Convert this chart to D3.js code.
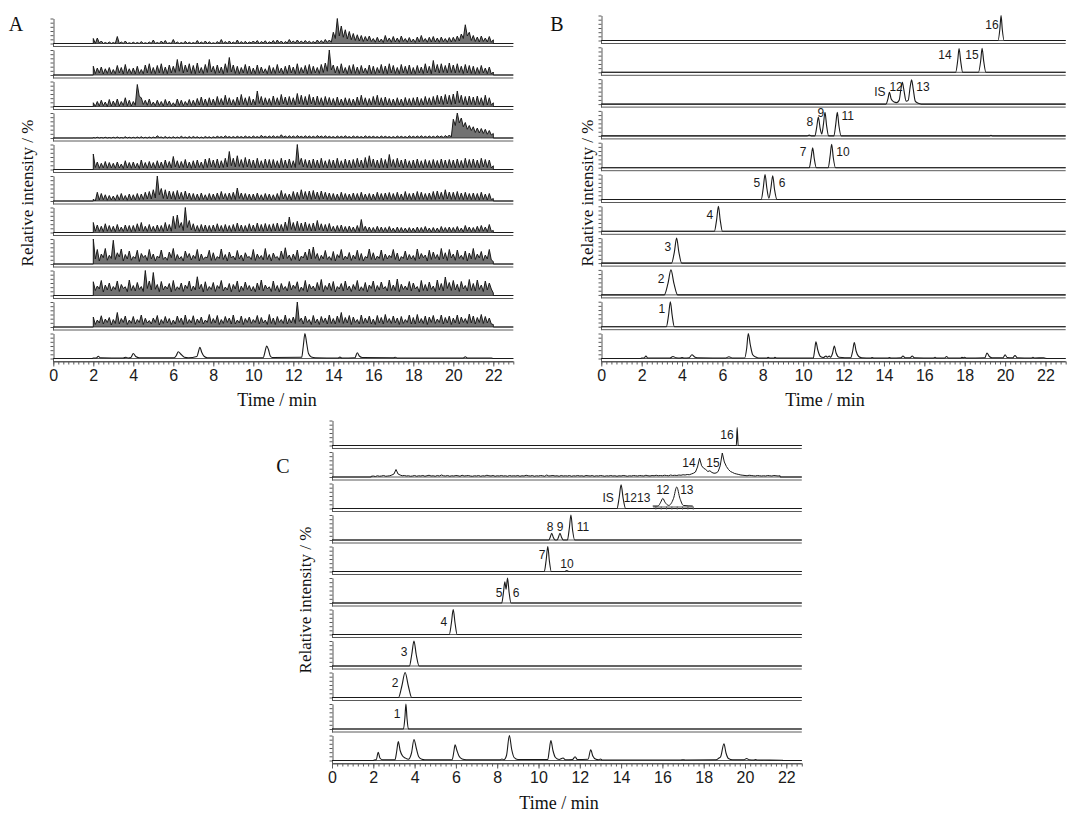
<!DOCTYPE html>
<html>
<head>
<meta charset="utf-8">
<script src="https://cdn.jsdelivr.net/npm/d3@7"></script>
<style>
  body { margin: 0; background: #fff; }
  svg { display: block; }
</style>
</head>
<body>
<svg id="fig" width="1067" height="813"></svg>
<script>
// ---------- time axis ----------
const timeTicks = [0, 2, 4, 6, 8, 10, 12, 14, 16, 18, 20, 22];

// ---------- panel A: noisy traces (relative intensity %, 2.0–22.0 min every 0.1 min) ----------
const noiseStartA = 2.0;
const noiseStepA = 0.1;

const a1 = [20,0,22,2,10,0,4,0,6,0, 4,0,28,0,6,0,10,0,3,0, 5,0,4,0,8,0,3,0,6,0, 14,0,4,0,10,0,12,0,3,0,
  16,0,6,0,4,0,9,0,5,0, 4,0,12,0,6,0,10,0,7,0, 3,0,8,0,16,0,8,0,10,0, 6,0,14,0,8,0,9,0,6,2,
  10,2,12,0,8,2,11,0,7,2, 12,0,14,2,10,0,8,2,16,3, 10,2,14,3,10,2,12,3,9,2, 8,2,14,3,12,2,16,4,14,5,
  45,20,100,30,70,25,55,18,48,15, 40,12,35,10,32,8,28,10,30,8, 20,5,25,6,18,4,32,8,22,5, 28,6,22,5,30,8,20,5,24,6,
  18,4,26,6,32,8,20,5,25,6, 28,6,22,5,26,7,20,5,24,6, 25,8,30,10,38,20,75,30,45,12, 32,8,26,6,30,8,22,6,28,5, 15];

const a2 = [35,5,28,8,32,4,25,6,30,5, 22,5,38,8,30,4,42,6,25,5, 28,4,35,6,22,5,40,8,45,6, 30,5,38,8,45,6,32,5,40,8,
  35,10,62,15,55,8,40,12,45,6, 38,5,48,8,30,6,42,10,62,12, 35,6,40,8,32,5,45,10,70,12, 40,6,35,5,30,8,42,6,36,5,
  28,5,40,6,32,8,25,5,38,6, 30,6,42,8,28,5,35,6,40,8, 32,5,45,6,30,8,38,5,42,6, 35,8,30,6,42,10,48,15,100,20,
  40,8,35,6,45,8,30,5,38,6, 42,6,32,5,38,8,28,6,40,5, 35,5,30,8,42,6,36,5,45,8, 38,6,30,5,42,8,35,6,40,5,
  30,5,38,8,32,6,45,8,35,5, 58,12,42,8,45,10,38,8,48,10, 40,8,45,10,35,6,42,8,38,6, 35,5,30,6,38,8,28,5,32,4, 12];

const a3 = [15,0,20,2,25,3,18,0,28,2, 22,3,30,2,20,4,35,3,25,2, 20,5,88,40,35,8,25,5,30,4, 18,3,25,4,20,2,28,5,22,3,
  15,2,30,4,25,3,20,5,28,4, 25,4,32,6,38,5,30,4,35,6, 30,5,40,8,32,6,45,8,35,6, 28,5,38,6,48,8,35,5,40,6,
  30,6,62,12,40,6,35,8,32,5, 42,8,35,6,48,10,38,6,40,8, 35,6,52,10,45,8,40,6,48,10, 38,6,42,8,35,5,40,8,36,6,
  32,5,38,6,30,5,35,6,32,5, 30,5,38,6,45,8,35,5,32,6, 40,8,45,6,35,5,38,6,32,5, 30,5,35,6,30,4,36,6,32,5,
  35,6,38,5,32,6,40,8,35,6, 40,8,45,10,42,8,48,10,45,8, 50,10,62,15,45,8,40,6,42,8, 38,6,42,8,35,5,45,6,35,5, 15];

const a4 = [2,0,3,0,2,0,3,0,2,0, 3,0,4,0,2,0,5,0,3,0, 3,0,4,0,5,0,3,0,4,0, 4,0,9,2,4,0,6,0,4,0,
  5,0,4,0,7,1,4,0,6,0, 6,1,5,0,4,0,6,1,5,0, 5,1,7,2,6,1,9,2,6,1, 6,1,7,2,6,1,8,2,6,1,
  8,2,6,1,11,3,7,2,8,2, 9,2,7,2,13,3,8,2,9,2, 8,2,10,3,7,2,9,2,8,2, 7,2,10,3,8,2,9,2,7,2,
  6,1,8,2,7,2,9,2,6,1, 8,2,7,2,6,1,9,2,7,2, 7,2,6,1,8,2,7,2,6,1, 6,1,8,2,7,2,6,1,9,2,
  7,2,8,2,9,2,7,2,8,2, 7,2,9,3,8,2,10,3,12,4, 75,50,100,60,80,45,62,35,50,30, 45,22,40,20,38,18,35,15,30,12, 18];

const a5 = [62,8,30,5,25,6,32,5,28,6, 25,5,30,6,22,4,35,6,28,5, 30,6,25,4,38,6,28,5,32,6, 28,5,35,6,30,5,38,8,32,6,
  52,10,35,6,32,8,40,6,30,5, 35,6,38,8,30,5,42,8,45,10, 38,8,42,6,35,8,45,10,72,15, 45,10,55,12,40,8,48,10,42,8,
  38,6,45,8,35,6,42,8,40,6, 40,8,35,6,45,8,38,6,42,8, 35,8,100,20,45,10,40,8,38,6, 42,8,38,6,45,8,35,6,40,8,
  38,6,45,8,35,6,42,8,38,6, 40,8,45,10,38,6,48,8,55,12, 42,8,38,6,45,8,40,6,60,12, 40,8,45,10,38,6,42,8,35,6,
  38,6,42,8,35,6,40,8,36,6, 40,8,36,6,42,8,38,6,40,8, 38,6,42,8,36,6,45,8,40,8, 42,8,38,6,45,10,40,8,38,6, 15];

const a6 = [8,0,35,4,30,5,25,3,22,4, 20,3,25,4,30,5,22,3,28,4, 25,4,30,5,28,6,35,8,38,8, 45,12,100,25,50,10,45,8,40,8,
  38,6,42,8,35,6,40,8,32,5, 30,5,28,4,32,6,25,4,30,5, 28,5,32,6,38,8,30,5,32,6, 35,6,52,10,32,6,30,5,28,4,
  28,4,32,6,25,4,30,5,28,4, 25,4,30,5,42,8,30,5,28,4, 38,6,35,6,45,8,38,6,40,6, 42,8,36,6,40,8,35,6,32,5,
  30,5,28,4,35,6,30,5,28,4, 32,5,30,4,35,6,28,5,30,4, 28,5,35,6,30,4,32,6,34,5, 30,5,35,6,28,4,38,6,30,5,
  32,5,38,6,35,6,30,5,32,6, 38,6,40,8,35,6,45,8,36,6, 35,6,38,6,32,5,35,6,30,5, 32,5,30,4,35,6,28,4,30,5, 10];

const a7 = [40,5,30,4,25,3,35,5,28,4, 25,3,32,5,22,4,30,5,28,3, 28,4,35,6,40,5,25,4,32,5, 25,4,30,5,28,4,40,6,32,5,
  65,15,70,20,40,8,100,20,48,10, 35,5,28,4,32,5,30,4,28,4, 30,5,35,6,28,4,32,5,28,4, 32,5,38,6,30,4,28,5,35,6,
  30,5,38,6,32,5,36,6,32,5, 35,6,38,6,32,5,42,8,62,12, 40,8,45,8,38,6,42,8,35,6, 38,6,48,10,35,6,32,5,36,6,
  25,4,28,5,30,4,24,3,26,4, 22,3,28,4,52,8,25,4,22,3, 20,3,25,4,22,3,20,3,24,4, 18,2,22,3,20,3,18,2,20,3,
  18,2,22,3,20,3,24,4,18,2, 20,3,18,2,24,4,20,3,22,3, 20,3,24,4,18,2,28,5,22,3, 20,3,25,4,28,5,22,3,32,5, 8];

const a8 = [100,20,58,12,40,25,62,15,35,22, 95,18,45,28,60,12,38,20,52,15, 30,22,55,10,42,26,35,14,58,20, 40,12,32,24,56,18,28,15,48,25,
  62,14,38,20,30,12,52,26,42,16, 35,22,58,12,40,18,28,25,55,14, 45,15,30,22,60,18,38,12,48,24, 32,16,54,20,36,12,45,26,30,18,
  58,14,40,22,34,16,62,18,38,12, 44,24,30,15,52,20,65,22,36,14, 40,18,56,12,32,24,48,16,60,20, 68,22,42,14,35,20,54,18,30,15,
  50,12,38,25,58,16,32,20,46,14, 36,20,55,15,42,12,30,24,60,18, 45,16,32,22,56,14,40,20,35,25, 58,18,44,12,30,22,52,16,38,20,
  34,14,60,20,42,25,36,12,55,18, 48,22,38,16,62,20,45,14,58,24, 40,15,56,22,35,18,52,12,44,20, 62,18,40,24,50,14,36,20,58,16, 10];

const a9 = [55,20,38,26,60,14,42,22,50,18, 36,24,58,16,44,28,35,15,62,20, 40,18,52,24,36,16,100,28,58,22, 92,25,44,15,56,22,38,26,48,14,
  60,20,35,24,50,16,42,28,58,18, 38,22,75,26,45,14,55,20,36,24, 52,16,40,28,60,18,34,22,48,15, 44,26,58,14,38,20,54,24,40,18,
  36,15,50,22,62,18,42,26,35,16, 58,20,40,14,48,24,36,18,56,22, 42,28,55,16,34,20,60,14,45,26, 38,18,52,22,64,15,40,24,50,20,
  56,14,36,26,48,18,58,22,38,16, 44,24,60,18,35,20,52,14,42,28, 58,16,40,22,54,26,36,18,62,20, 42,20,66,15,45,24,38,22,56,18,
  50,26,36,14,60,20,44,18,54,24, 38,16,62,22,48,18,74,28,52,20, 60,22,45,16,56,26,40,18,64,20, 48,18,62,24,42,16,58,22,50,26, 10];

const a10 = [40,10,28,16,45,12,32,18,38,8, 30,14,58,12,34,18,44,10,28,15, 42,12,30,18,48,10,35,16,26,12, 36,18,46,8,30,14,42,16,34,10,
  28,12,44,18,36,10,48,14,30,16, 45,10,32,16,40,12,28,18,50,14, 34,16,46,10,30,14,42,18,36,12, 48,12,28,16,44,10,34,18,40,14,
  30,18,46,12,38,16,28,10,50,14, 36,10,42,18,30,14,48,12,34,16, 40,14,100,22,36,12,44,18,30,10, 46,16,32,10,42,18,36,12,48,14,
  34,12,44,18,58,14,38,16,46,10, 40,18,30,12,48,14,36,16,44,12, 32,10,46,16,38,12,50,18,34,14, 44,16,36,10,42,14,30,18,48,12,
  38,12,50,16,34,14,44,10,40,18, 46,14,32,18,48,12,38,16,44,10, 36,16,48,12,40,18,34,14,52,16, 44,12,38,18,50,14,42,16,36,12, 10];

// panel A, bottom trace: [time min, relative intensity %]
const aTrace11 = [[0,0],[1.95,0],[2.0,2],[2.15,2],[2.25,9],[2.35,3],[3.5,2],[3.63,5],[3.75,2],[3.88,4],[4.0,20],[4.12,8],[4.3,3],
  [6.05,3],[6.15,12],[6.25,27],[6.37,18],[6.55,5],[6.75,3],[7.18,8],[7.25,25],[7.33,45],[7.42,25],[7.55,8],[7.7,3],
  [10.5,3],[10.58,25],[10.67,50],[10.76,35],[10.85,10],[10.95,4],[12.42,5],[12.5,50],[12.58,100],[12.67,60],[12.76,20],[12.9,6],[13.1,3],
  [14.25,2],[14.33,6],[14.42,2],[15.08,3],[15.2,23],[15.3,10],[15.45,4],[17.0,3],[17.1,5],[17.2,2],[20.5,2],[20.6,7],[20.7,2],
  [21.9,2],[22.0,0],[23,0]];

// ---------- panel B traces ----------
const bTrace1 = [[0,0],[19.65,0],[19.74,45],[19.8,100],[19.86,45],[19.95,0],[23,0]];
const bTrace2 = [[0,0],[17.55,0],[17.65,45],[17.72,95],[17.8,45],[17.9,0],[18.68,0],[18.79,45],[18.86,96],[18.94,45],[19.05,0],[23,0]];
const bTrace3 = [[0,0],[14.1,0],[14.2,22],[14.27,47],[14.36,20],[14.5,8],[14.62,6],[14.75,15],[14.84,60],[14.91,87],[14.98,60],[15.1,12],
  [15.2,15],[15.3,70],[15.37,97],[15.45,60],[15.55,12],[15.7,3],[15.85,0],[23,0]];
const bTrace4 = [[0,0],[10.2,0],[10.3,3],[10.4,0],[10.58,0],[10.67,35],[10.75,75],[10.84,30],[10.92,8],[11.0,45],[11.08,94],[11.16,40],
  [11.26,0],[11.52,0],[11.61,45],[11.69,94],[11.77,40],[11.88,0],[19.2,0],[19.3,2],[19.4,0],[23,0]];
const bTrace5 = [[0,0],[10.3,0],[10.39,38],[10.47,80],[10.55,35],[10.65,0],[11.24,0],[11.33,45],[11.41,94],[11.49,40],[11.6,0],[23,0]];
const bTrace6 = [[0,0],[7.92,0],[8.02,45],[8.11,100],[8.2,45],[8.3,5],[8.4,45],[8.49,95],[8.58,40],[8.7,0],[23,0]];
const bTrace7 = [[0,0],[5.6,0],[5.71,45],[5.8,100],[5.89,45],[6.0,0],[23,0]];
const bTrace8 = [[0,0],[3.48,0],[3.62,45],[3.73,100],[3.84,45],[3.98,0],[23,0]];
const bTrace9 = [[0,0],[3.12,0],[3.3,45],[3.45,100],[3.6,45],[3.78,0],[23,0]];
const bTrace10 = [[0,0],[3.22,0],[3.33,45],[3.42,100],[3.51,45],[3.62,0],[23,0]];
const bTrace11 = [[0,0],[1.95,0],[2.0,2],[2.12,2],[2.21,10],[2.3,2],[3.4,2],[3.55,8],[3.7,3],[3.9,2],[4.0,4],[4.1,2],[4.35,3],[4.49,15],
  [4.62,6],[4.75,3],[6.15,2],[6.32,7],[6.5,2],[7.1,2],[7.2,40],[7.28,100],[7.38,55],[7.5,15],[7.65,6],[7.8,2],[8.2,2],[8.26,5],[8.35,2],
  [8.55,2],[8.6,5],[8.68,2],[10.5,2],[10.57,35],[10.63,67],[10.72,35],[10.85,8],[11.0,4],[11.13,10],[11.2,5],[11.29,10],[11.36,5],
  [11.45,20],[11.54,50],[11.63,22],[11.78,5],[12.35,3],[12.45,30],[12.53,64],[12.62,30],[12.75,8],[12.9,3],[13.35,2],[13.41,4],[13.5,2],
  [14.2,2],[14.27,4],[14.35,2],[14.85,3],[14.94,10],[15.05,3],[15.3,3],[15.4,10],[15.5,3],[16.45,2],[16.53,5],[16.6,2],[17.0,2],[17.1,8],
  [17.2,2],[17.8,2],[17.86,5],[17.93,3],[18.0,5],[18.08,2],[19.0,3],[19.1,22],[19.22,8],[19.35,3],[19.9,3],[20.0,15],[20.1,4],[20.38,3],
  [20.49,12],[20.6,3],[21.3,2],[21.38,5],[21.46,2],[21.9,3],[22.0,1],[22.1,0],[23,0]];

// ---------- panel C traces ----------
const noiseStartC = 1.9;
const noiseStepC = 0.1;
const cNoise2 = [3,4,2,5,3,4,6,3,4,5, 8,12,30,12,8,5,6,4,5,3, 4,6,3,5,4,6,3,5,7,4, 5,3,6,4,8,5,4,6,3,5,
  4,6,5,3,7,4,5,6,4,3, 5,4,6,3,5,4,7,5,4,6, 3,5,4,6,4,5,3,6,4,5, 4,6,3,5,4,7,5,4,6,3,
  5,4,6,5,3,8,4,5,6,4, 5,3,6,4,5,4,6,3,5,4, 6,4,5,3,6,5,4,6,3,5, 4,6,5,3,5,4,6,4,5,3,
  5,4,6,5,3,5,4,6,5,4, 6,5,4,7,5,4,6,5,7,5, 6,5,7,6,5,8,6,7,6,8, 7,9,8,10,9,12,15,20,40,75,
  45,35,30,22,25,18,15,16,22,45, 96,60,42,30,22,18,14,12,10,8, 7,6,5,7,6,5,4,6,5,4, 5,4,6,5,4,6,5,4,5];

const cTrace1 = [[0,0],[19.58,0],[19.62,72],[19.67,0],[22.75,0]];
const cTrace3 = [[0,0],[13.8,0],[13.9,40],[14.0,95],[14.1,40],[14.22,0],[22.75,0]];
const cTrace4 = [[0,0],[10.5,0],[10.57,12],[10.64,27],[10.72,10],[10.8,0],[10.9,0],[10.97,12],[11.04,27],[11.12,10],[11.2,0],
  [11.4,0],[11.49,45],[11.57,100],[11.65,40],[11.75,0],[22.75,0]];
const cTrace5 = [[0,0],[10.28,0],[10.37,45],[10.45,100],[10.53,40],[10.62,0],[11.28,0],[11.37,4],[11.46,0],[22.75,0]];
const cTrace6 = [[0,0],[8.22,0],[8.3,40],[8.37,85],[8.43,55],[8.5,100],[8.58,40],[8.67,0],[22.75,0]];
const cTrace7 = [[0,0],[5.68,0],[5.78,45],[5.87,100],[5.96,45],[6.06,0],[22.75,0]];
const cTrace8 = [[0,0],[3.75,0],[3.86,45],[3.97,100],[4.08,45],[4.22,0],[22.75,0]];
const cTrace9 = [[0,0],[3.22,0],[3.38,45],[3.54,100],[3.7,45],[3.86,0],[22.75,0]];
const cTrace10 = [[0,0],[3.46,0],[3.53,45],[3.58,100],[3.63,45],[3.7,0],[22.75,0]];
const cTrace11 = [[0,0],[1.99,0],[2.05,2],[2.14,3],[2.24,33],[2.32,10],[2.45,3],[3.05,3],[3.13,35],[3.21,76],[3.3,40],[3.42,18],
  [3.55,10],[3.7,5],[3.85,30],[3.97,84],[4.08,50],[4.2,15],[4.35,5],[4.5,3],[5.82,3],[5.9,35],[5.96,63],[6.05,40],[6.15,18],[6.3,6],
  [6.5,3],[8.15,3],[8.23,6],[8.32,3],[8.45,20],[8.59,100],[8.7,45],[8.82,12],[9.0,4],[10.45,4],[10.52,40],[10.6,80],[10.7,40],
  [10.82,12],[11.0,4],[11.19,10],[11.3,3],[11.65,4],[11.77,15],[11.88,4],[12.4,5],[12.53,43],[12.63,18],[12.78,5],[12.92,3],[13.0,6],
  [13.08,2],[16.9,2],[17.0,3],[17.1,2],[18.6,3],[18.74,10],[18.82,15],[18.98,67],[19.08,30],[19.2,8],[19.4,3],[19.95,3],[20.08,8],
  [20.2,3],[20.45,2],[20.5,4],[20.6,2],[21.78,1],[21.85,0],[22.75,0]];

// enlarged view of peaks 12 and 13 (row 3 of panel C)
const cInsetTrace = [[14.5,0],[14.7,0],[14.8,20],[14.88,40],[14.96,20],[15.1,3],[15.28,40],[15.4,100],[15.52,40],[15.65,3],[16.0,0]];

// ---------- peak tags: [row, text, time, relative height] ----------
const bTags = [[0,'16',19.35,60],[1,'14',17.02,66],[1,'15',18.36,66],[2,'IS',13.8,46],[2,'12',14.6,66],[2,'13',15.93,66],
  [3,'8',10.33,54],[3,'9',10.88,90],[3,'11',12.21,78],[4,'7',9.99,61],[4,'10',11.97,61],[5,'5',7.71,64],[5,'6',8.95,64],
  [6,'4',5.38,63],[7,'3',3.3,62],[8,'2',2.96,62],[9,'1',3.0,69]];
const cTags = [[0,'16',19.13,40],[1,'14',17.29,54],[1,'15',18.45,54],[2,'IS',13.37,40],[2,'1213',14.77,40],
  [3,'8',10.56,50],[3,'9',11.04,50],[3,'11',12.15,50],[4,'7',10.17,64],[4,'10',11.38,28],[5,'5',8.09,38],[5,'6',8.91,38],
  [6,'4',5.42,48],[7,'3',3.49,54],[8,'2',3.05,56],[9,'1',3.15,58]];
const cInsetTags = [['12',14.88,84],['13',15.78,84]];

// ---------- drawing ----------
const svg = d3.select('#fig');
const SANS = "'Liberation Sans', Arial, sans-serif";
const SERIF = "'Liberation Serif', 'Times New Roman', serif";
const traceColor = '#1a1a1a';
const ruleColor = '#5a5a5a';

const panelA = { name: 'A', x0: 53.3, px: 20.0, tEnd: 23, base: 43, gap: 31.5, h: 25,
  letter: [16, 31], yTitle: [27, 193], xTitle: [277, 400] };
const panelB = { name: 'B', x0: 601.3, px: 20.19, tEnd: 23, base: 40, gap: 31.8, h: 25,
  letter: [557, 31], yTitle: [587, 193], xTitle: [825, 400] };
const panelC = { name: 'C', x0: 332, px: 20.65, tEnd: 22.75, base: 445, gap: 31.5, h: 25,
  letter: [283, 473], yTitle: [305, 600], xTitle: [559, 803] };

function noisePoints(values, t0, dt, tEnd) {
  const pts = [[0, 0], [t0, 0]];
  values.forEach((v, j) => pts.push([t0 + j * dt, v]));
  const tLast = t0 + (values.length - 1) * dt;
  pts.push([tLast, 0], [tEnd, 0]);
  return pts;
}

function drawPanel(L, rows, tags) {
  const g = svg.append('g');
  const x = d3.scaleLinear().domain([0, L.tEnd]).range([L.x0, L.x0 + L.tEnd * L.px]);
  const rowScales = [];

  rows.forEach((row, i) => {
    const b = L.base + i * L.gap;
    const y = d3.scaleLinear().domain([0, 100]).range([b, b - L.h]);
    rowScales.push(y);
    const last = i === rows.length - 1;

    // row frame: baseline rule and lower rule
    g.append('line').attr('x1', x(0)).attr('x2', x(L.tEnd)).attr('y1', b + 0.5).attr('y2', b + 0.5)
      .attr('stroke', ruleColor).attr('stroke-width', 1);
    g.append('line').attr('x1', x(0)).attr('x2', x(L.tEnd)).attr('y1', b + 3.5).attr('y2', b + 3.5)
      .attr('stroke', ruleColor).attr('stroke-width', 1);

    // small intensity axis of the row
    const ya = g.append('g').attr('transform', `translate(${Math.round(x(0)) + 0.5},0.5)`)
      .call(d3.axisLeft(y).tickValues([0, 16.7, 33.3, 50, 66.7, 83.3, 100]).tickSize(3).tickSizeOuter(0).tickFormat(''));
    ya.selectAll('path,line').attr('stroke', ruleColor);
    g.append('line').attr('x1', Math.round(x(0)) + 0.5).attr('x2', Math.round(x(0)) + 0.5)
      .attr('y1', b).attr('y2', b + 4).attr('stroke', ruleColor);

    // dense noise band under the trace
    if (row.fill) {
      const area = d3.area().x(d => x(d[0])).y0(y(0) + 0.5).y1(d => y(d[1]) + 0.5);
      g.append('path').datum(row.pts).attr('d', area)
        .attr('fill', '#141414').attr('fill-opacity', 0.6).attr('stroke', 'none');
    }

    // chromatogram trace
    const line = d3.line().x(d => x(d[0])).y(d => y(d[1]) + 0.5)
      .curve(row.kind === 'noise' ? d3.curveLinear : d3.curveMonotoneX);
    g.append('path').datum(row.pts).attr('d', line)
      .attr('fill', 'none').attr('stroke', traceColor).attr('stroke-width', row.kind === 'noise' ? 1 : 1.1)
      .attr('stroke-linejoin', 'round');

    if (last) {
      const axisY = b + 3.5;
      const minor = g.append('g').attr('transform', `translate(0,${axisY})`)
        .call(d3.axisBottom(x).tickValues(d3.range(0, L.tEnd + 1e-6, 0.25)).tickSize(3).tickSizeOuter(0).tickFormat(''));
      minor.selectAll('path,line').attr('stroke', ruleColor);
      const major = g.append('g').attr('transform', `translate(0,${axisY})`)
        .call(d3.axisBottom(x).tickValues(timeTicks).tickSize(5).tickSizeOuter(0).tickPadding(3));
      major.select('.domain').remove();
      major.selectAll('line').attr('stroke', ruleColor);
      major.selectAll('text').attr('font-family', SANS).attr('font-size', 16).attr('fill', '#1a1a1a');
    }
  });

  // peak tags
  (tags || []).forEach(([r, text, t, v]) => {
    g.append('text').attr('x', x(t)).attr('y', rowScales[r](v))
      .attr('text-anchor', 'middle').attr('dominant-baseline', 'central')
      .attr('font-family', SANS).attr('font-size', 12).attr('fill', '#1a1a1a').text(text);
  });

  // titles
  g.append('text').attr('x', L.letter[0]).attr('y', L.letter[1]).attr('text-anchor', 'middle')
    .attr('font-family', SERIF).attr('font-size', 20).attr('fill', '#111').text(L.name);
  g.append('text').attr('transform', `translate(${L.yTitle[0]},${L.yTitle[1]}) rotate(-90)`)
    .attr('text-anchor', 'middle').attr('dominant-baseline', 'central')
    .attr('font-family', SERIF).attr('font-size', 17).attr('fill', '#111').text('Relative intensity / %');
  g.append('text').attr('x', L.xTitle[0]).attr('y', L.xTitle[1]).attr('text-anchor', 'middle')
    .attr('dominant-baseline', 'central').attr('font-family', SERIF).attr('font-size', 18).attr('fill', '#111')
    .text('Time / min');

  return { g, x, rowScales };
}

const rowsA = [a1, a2, a3, a4, a5, a6, a7, a8, a9, a10]
  .map(v => ({ kind: 'noise', fill: true, pts: noisePoints(v, noiseStartA, noiseStepA, panelA.tEnd) }))
  .concat([{ kind: 'peaks', pts: aTrace11 }]);

const rowsB = [bTrace1, bTrace2, bTrace3, bTrace4, bTrace5, bTrace6, bTrace7, bTrace8, bTrace9, bTrace10, bTrace11]
  .map(p => ({ kind: 'peaks', pts: p }));

const rowsC = [
  { kind: 'peaks', pts: cTrace1 },
  { kind: 'noise', pts: noisePoints(cNoise2, noiseStartC, noiseStepC, panelC.tEnd) },
  ...[cTrace3, cTrace4, cTrace5, cTrace6, cTrace7, cTrace8, cTrace9, cTrace10, cTrace11].map(p => ({ kind: 'peaks', pts: p }))
];

drawPanel(panelA, rowsA, []);
drawPanel(panelB, rowsB, bTags);
const pc = drawPanel(panelC, rowsC, cTags);

// enlarged view of peaks 12/13 inside row 3 of panel C
(function drawInset() {
  const xC = pc.x;
  const b = panelC.base + 2 * panelC.gap - 2;
  const ix = d3.scaleLinear().domain([14.5, 16.0]).range([xC(15.53), xC(17.47)]);
  const iy = d3.scaleLinear().domain([0, 100]).range([b, b - 19]);
  const ax = pc.g.append('g').attr('transform', `translate(0,${b + 0.5})`)
    .call(d3.axisBottom(ix).ticks(8).tickSize(3).tickSizeOuter(0).tickFormat(''));
  ax.selectAll('path,line').attr('stroke', ruleColor);
  pc.g.append('path').datum(cInsetTrace)
    .attr('d', d3.line().x(d => ix(d[0])).y(d => iy(d[1])).curve(d3.curveMonotoneX))
    .attr('fill', 'none').attr('stroke', traceColor).attr('stroke-width', 1);
  cInsetTags.forEach(([text, t, v]) => {
    pc.g.append('text').attr('x', ix(t)).attr('y', iy(v)).attr('text-anchor', 'middle')
      .attr('dominant-baseline', 'central').attr('font-family', SANS).attr('font-size', 12)
      .attr('fill', '#1a1a1a').text(text);
  });
})();
</script>
</body>
</html>
